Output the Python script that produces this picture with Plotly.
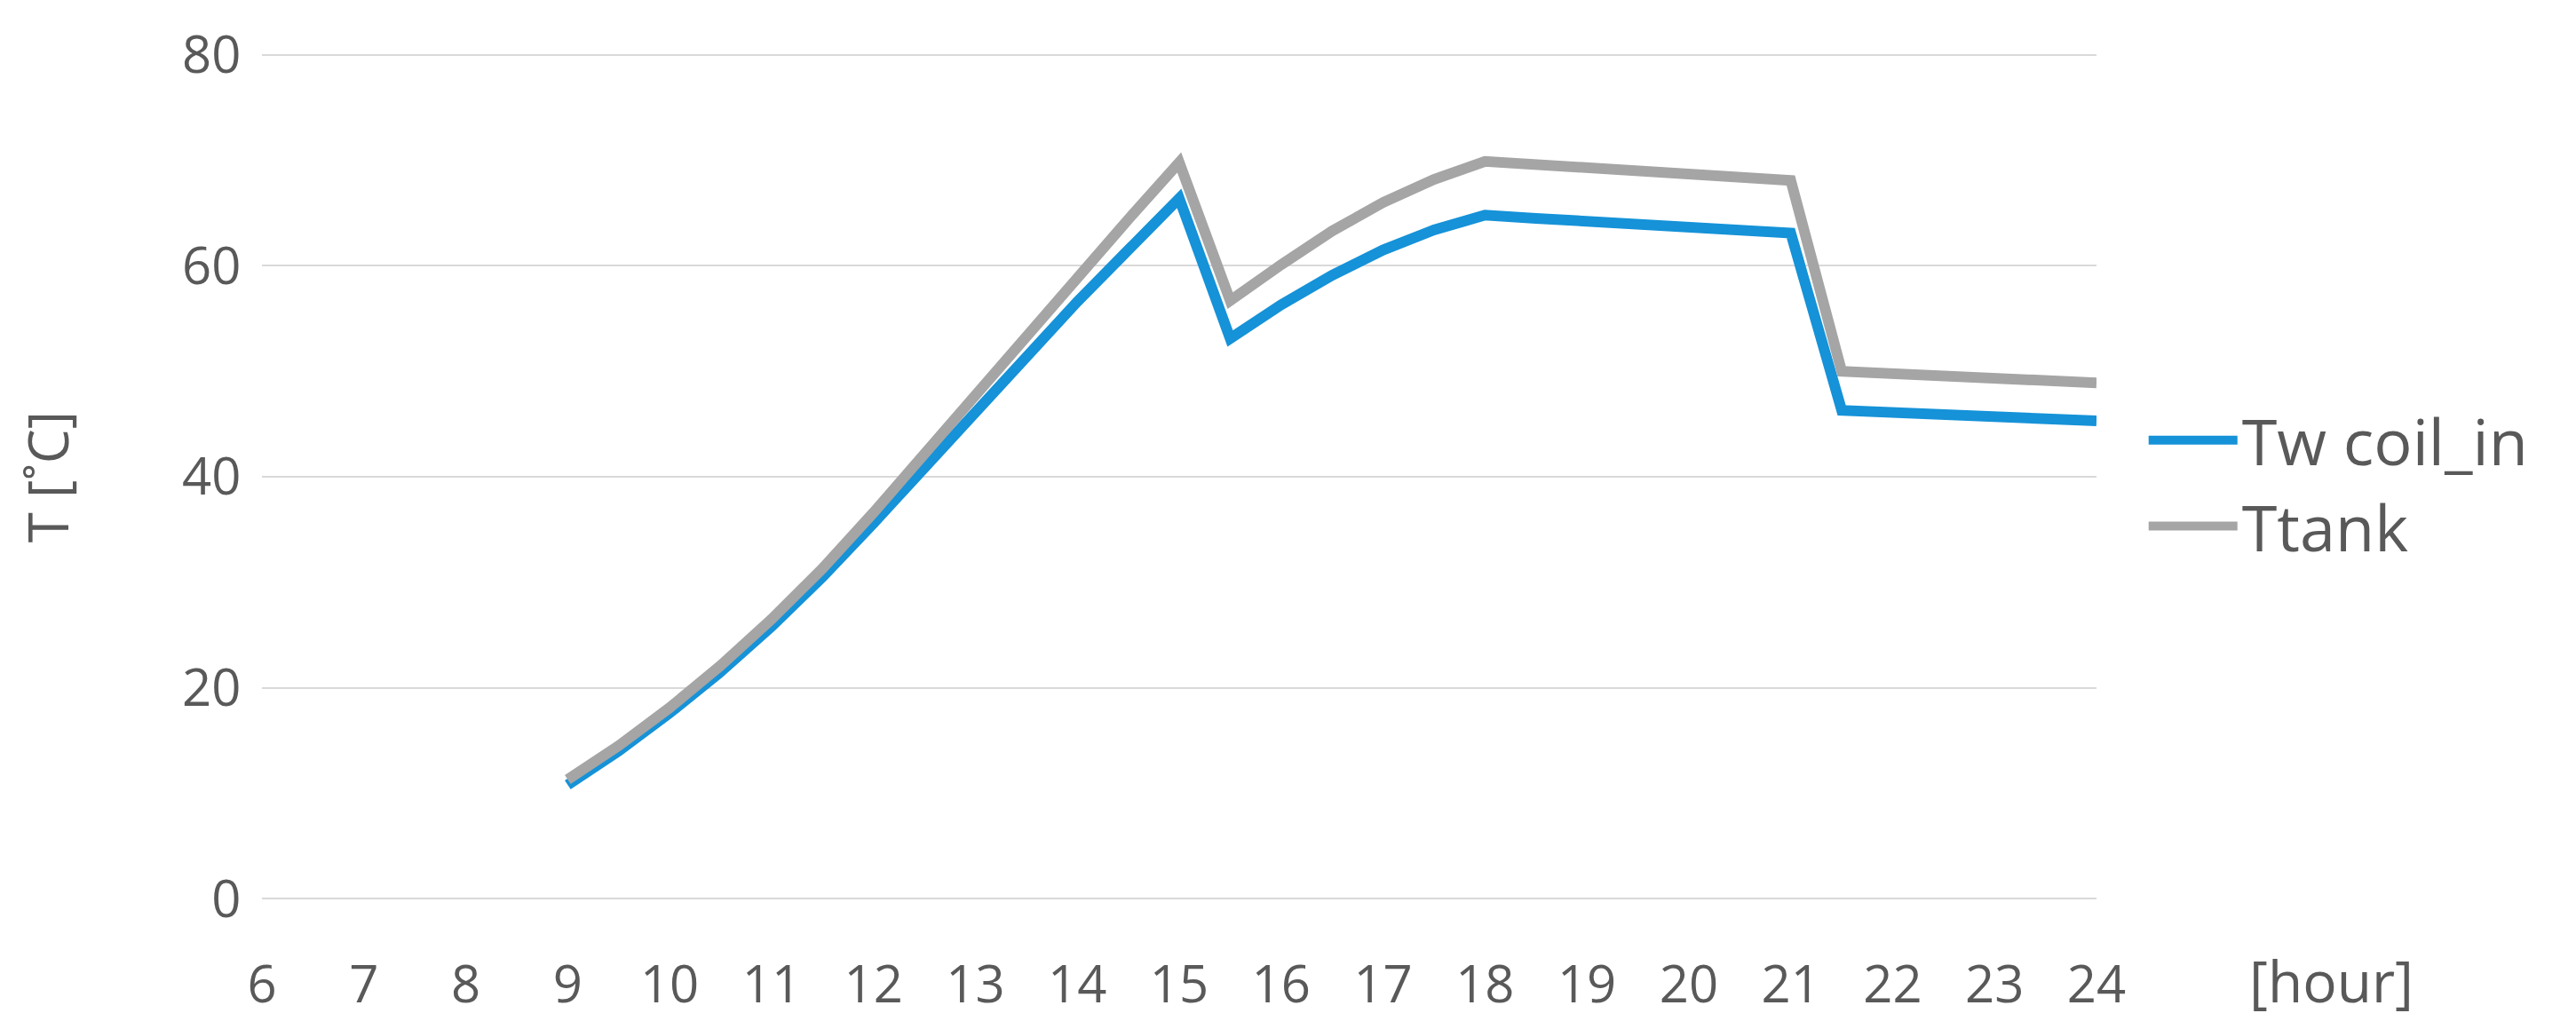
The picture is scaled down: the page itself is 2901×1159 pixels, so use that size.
import plotly.graph_objects as go

hours = [9, 9.5, 10, 10.5, 11, 11.5, 12, 12.5, 13, 13.5, 14, 14.5, 15, 15.5, 16, 16.5, 17, 17.5,
         18, 18.5, 19, 19.5, 20, 20.5, 21, 21.5, 22, 22.5, 23, 23.5, 24]

tw_coil_in = [10.8, 14.0, 17.6, 21.5, 25.8, 30.5, 35.6, 40.9, 46.3, 51.5, 56.6, 61.5, 66.4, 53.1, 56.3, 59.1,
              61.5, 63.4, 64.8, 64.5, 64.2, 63.9, 63.7, 63.4, 63.1, 46.3, 46.1, 45.9, 45.7, 45.5, 45.3]

t_tank = [11.3, 14.5, 18.1, 22.1, 26.5, 31.3, 36.6, 42.2, 47.8, 53.4, 59.0, 64.4, 69.8, 56.7, 60.1, 63.3,
          66.0, 68.2, 69.9, 69.6, 69.3, 69.0, 68.7, 68.4, 68.1, 50.0, 49.8, 49.6, 49.3, 49.1, 48.9]

x_ticks = list(range(6, 25))
y_ticks = [0, 20, 40, 60, 80]

FONT = "Open Sans"
TXT = "#595959"

fig = go.Figure()
fig.add_trace(go.Scatter(x=hours, y=tw_coil_in, mode="lines", name="Tw coil_in",
                         line=dict(color="#1592D8", width=12)))
fig.add_trace(go.Scatter(x=hours, y=t_tank, mode="lines", name="Ttank",
                         line=dict(color="#A5A5A5", width=12)))

fig.update_layout(
    width=2901, height=1159,
    margin=dict(l=287, r=548, t=49, b=153),
    paper_bgcolor="white", plot_bgcolor="white",
    font=dict(family=FONT, color=TXT, size=58),
    legend=dict(x=1.026, y=0.599, xanchor="left", yanchor="top",
                font=dict(family=FONT, size=72, color=TXT),
                bgcolor="rgba(0,0,0,0)", itemwidth=100, tracegroupgap=0),
    xaxis=dict(range=[6, 24], tickmode="array", tickvals=x_ticks,
               ticktext=[str(v) for v in x_ticks], showgrid=False, zeroline=False,
               showline=False, ticks="outside", ticklen=44, tickcolor="rgba(0,0,0,0)",
               tickfont=dict(family=FONT, size=58, color=TXT)),
    yaxis=dict(range=[-0.15, 80.15], tickmode="array", tickvals=y_ticks,
               ticktext=[str(v) for v in y_ticks], showgrid=True, gridcolor="#D9D9D9",
               gridwidth=2, zeroline=False, showline=False, ticks="outside",
               ticklen=11, tickcolor="rgba(0,0,0,0)",
               tickfont=dict(family=FONT, size=58, color=TXT)),
    annotations=[
        dict(text="T [˚C]", xref="paper", yref="paper", x=-0.117, y=0.5,
             xanchor="center", yanchor="middle", textangle=-90, showarrow=False,
             font=dict(family=FONT, size=62, color=TXT)),
        dict(text="[hour]", xref="paper", yref="paper", x=1.128, y=-0.095,
             xanchor="center", yanchor="middle", showarrow=False,
             font=dict(family=FONT, size=64, color=TXT)),
    ],
)

fig.write_html("out.html")
